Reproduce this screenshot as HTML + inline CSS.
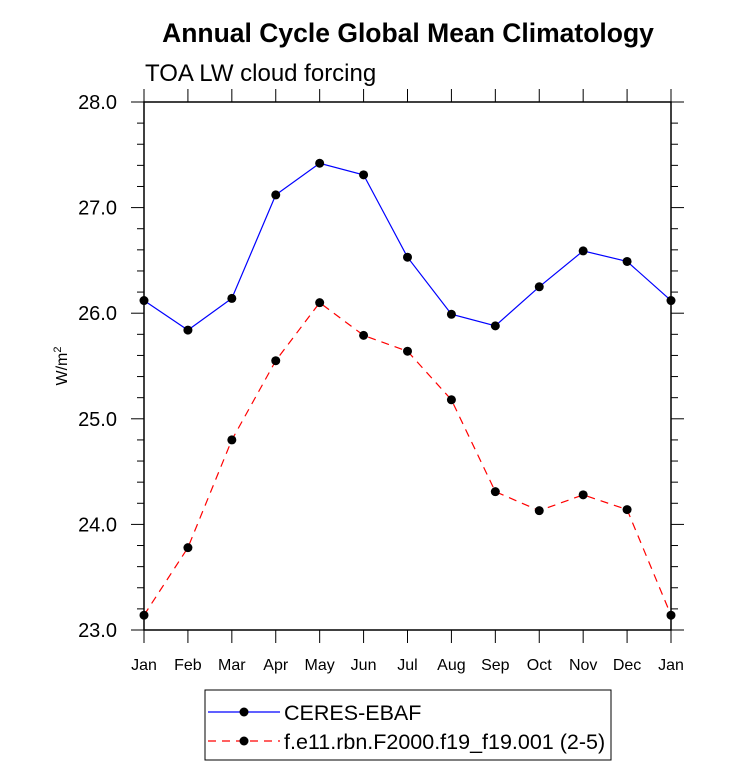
<!DOCTYPE html>
<html><head><meta charset="utf-8"><style>body{margin:0;background:#fff}svg{display:block}</style></head>
<body>
<svg width="733" height="782" xmlns="http://www.w3.org/2000/svg" font-family="Liberation Sans, sans-serif">
<text x="408" y="42" text-anchor="middle" font-size="26.5" font-weight="bold">Annual Cycle Global Mean Climatology</text>
<text x="145" y="81" font-size="24">TOA LW cloud forcing</text>
<text transform="translate(67,366) rotate(-90)" text-anchor="middle" font-size="16">W/m<tspan dy="-6" font-size="11">2</tspan></text>
<g id="axes"></g>
<g id="series"></g>
<g>
<rect x="205" y="690" width="406" height="70" fill="#fff" stroke="#000" stroke-width="1"/>
<line x1="208" y1="712" x2="280" y2="712" stroke="#00f" stroke-width="1.2"/>
<circle cx="244" cy="712" r="4.5" fill="#000"/>
<text x="284" y="720" font-size="21.5">CERES-EBAF</text>
<line x1="208" y1="741" x2="280" y2="741" stroke="#f00" stroke-width="1.2" stroke-dasharray="8,6"/>
<circle cx="244" cy="741" r="4.5" fill="#000"/>
<text x="284" y="749" font-size="21.5">f.e11.rbn.F2000.f19_f19.001 (2-5)</text>
</g>
</svg>
<script>
const months=["Jan","Feb","Mar","Apr","May","Jun","Jul","Aug","Sep","Oct","Nov","Dec","Jan"];
const yTicks=[23,24,25,26,27,28];
const ceres=[26.12,25.84,26.14,27.12,27.42,27.31,26.53,25.99,25.88,26.25,26.59,26.49,26.12];
const model=[23.14,23.78,24.80,25.55,26.10,25.79,25.64,25.18,24.31,24.13,24.28,24.14,23.14];
const L=144,R=671,T=102,B=630,ymin=23,ymax=28;
const xs=i=>L+(R-L)*i/12;
const ys=v=>B-(B-T)*(v-ymin)/(ymax-ymin);
const NS="http://www.w3.org/2000/svg";
function mk(t,a,p){const e=document.createElementNS(NS,t);for(const k in a)e.setAttribute(k,a[k]);p.appendChild(e);return e;}
const ax=document.getElementById('axes');
const frame=mk('rect',{x:L,y:T,width:R-L,height:B-T,fill:'none',stroke:'#000','stroke-width':1.5},ax);


for(let v=ymin;v<=ymax+1e-9;v+=0.2){const y=ys(v);const maj=Math.abs(v-Math.round(v))<1e-6;const len=maj?13:7;
mk('line',{x1:L-len,y1:y,x2:L,y2:y,stroke:'#000','stroke-width':1},ax);
mk('line',{x1:R,y1:y,x2:R+len,y2:y,stroke:'#000','stroke-width':1},ax);}
yTicks.forEach(v=>{const t=mk('text',{x:117,y:ys(v)+7,'text-anchor':'end','font-size':20},ax);t.textContent=v.toFixed(1);

});
months.forEach((m,i)=>{const x=xs(i);
mk('line',{x1:x,y1:B,x2:x,y2:B+13,stroke:'#000','stroke-width':1},ax);
mk('line',{x1:x,y1:T-13,x2:x,y2:T,stroke:'#000','stroke-width':1},ax);
const t=mk('text',{x:x,y:670,'text-anchor':'middle','font-size':16},ax);t.textContent=m;

});
const sg=document.getElementById('series');
function series(d,col,dash,name){
const p=mk('polyline',{points:d.map((v,i)=>xs(i)+','+ys(v)).join(' '),fill:'none',stroke:col,'stroke-width':1.2,'stroke-dasharray':dash},sg);


d.forEach((v,i)=>{const c=mk('circle',{cx:xs(i),cy:ys(v),r:4.5,fill:'#000'},sg);

});}
series(ceres,'#00f','none','ceres');
series(model,'#f00','8,6','model');
</script>
</body></html>
